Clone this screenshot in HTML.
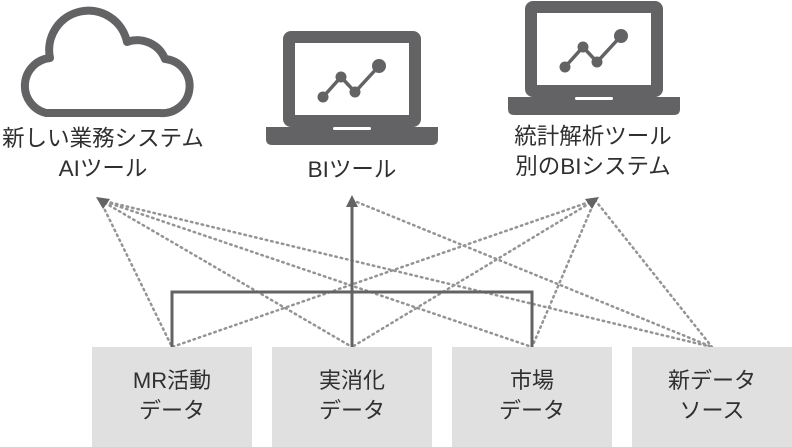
<!DOCTYPE html>
<html><head><meta charset="utf-8"><style>
html,body{margin:0;padding:0;background:#fff;}
body{width:792px;height:447px;position:relative;overflow:hidden;font-family:"Liberation Sans","Noto Sans CJK JP",sans-serif;color:#333;}
.t{position:absolute;text-align:center;font-size:22.5px;line-height:30px;white-space:nowrap;color:#2f2f2f;}
.box{position:absolute;top:347px;width:160px;height:100px;background:#e0e0e0;text-align:center;font-size:22px;line-height:30px;color:#2f2f2f;box-sizing:border-box;padding-top:19px;}
svg{position:absolute;left:0;top:0;}
</style></head><body>
<svg width="792" height="447" viewBox="0 0 792 447">
<defs>
<g id="lap">
<rect x="0" y="0" width="138" height="96" rx="8" fill="#636366"/>
<rect x="12" y="12" width="114" height="72" fill="#fff"/>
<path d="M-17,96 H155 V108 Q155,114 149,114 H-11 Q-17,114 -17,108 Z" fill="#636366"/>
<rect x="50" y="96" width="38" height="3" rx="1.5" fill="#fff"/>
<polyline points="40,66 58,46 72,61 96,35" fill="none" stroke="#636366" stroke-width="3.5"/>
<circle cx="40" cy="66" r="5.5" fill="#636366"/>
<circle cx="58" cy="46" r="5.5" fill="#636366"/>
<circle cx="72" cy="61" r="5.5" fill="#636366"/>
<circle cx="96" cy="35" r="7" fill="#636366"/>
</g>
</defs>
<path d="M46,113 H160 A27,27 0 0 0 165,59 A30,30 0 0 0 127,42 A38,38 0 1 0 50,58 A28,28 0 0 0 46,113 Z" fill="none" stroke="#636366" stroke-width="8" stroke-linejoin="round"/>
<use href="#lap" x="283" y="31"/>
<use href="#lap" x="525" y="1"/>
<g stroke="#949496" stroke-width="2.5" stroke-dasharray="1.5 4" stroke-linecap="round" fill="none">
<line x1="100" y1="200" x2="172" y2="347"/>
<line x1="100" y1="200" x2="352" y2="347"/>
<line x1="100" y1="200" x2="532" y2="347"/>
<line x1="100" y1="200" x2="712" y2="347"/>
<line x1="595" y1="200" x2="172" y2="347"/>
<line x1="595" y1="200" x2="352" y2="347"/>
<line x1="595" y1="200" x2="532" y2="347"/>
<line x1="595" y1="200" x2="712" y2="347"/>
<line x1="352" y1="200" x2="712" y2="347"/>
</g>
<polygon points="96,197 110,199 103,209" fill="#636366"/>
<polygon points="599,197 585,199 592,209" fill="#636366"/>
<path d="M172,347 V292 H532 V347 M352,347 V205" fill="none" stroke="#636366" stroke-width="3"/>
<polygon points="352,195 346,207 358,207" fill="#636366"/>
</svg>
<div class="t" style="left:0;width:206px;top:124px;">新しい業務システム<br>AIツール</div>
<div class="t" style="left:252px;width:200px;top:155px;">BIツール</div>
<div class="t" style="left:493px;width:200px;top:122px;">統計解析ツール<br>別のBIシステム</div>
<div class="box" style="left:92px;">MR活動<br>データ</div>
<div class="box" style="left:272px;">実消化<br>データ</div>
<div class="box" style="left:452px;">市場<br>データ</div>
<div class="box" style="left:632px;">新データ<br>ソース</div>
</body></html>
